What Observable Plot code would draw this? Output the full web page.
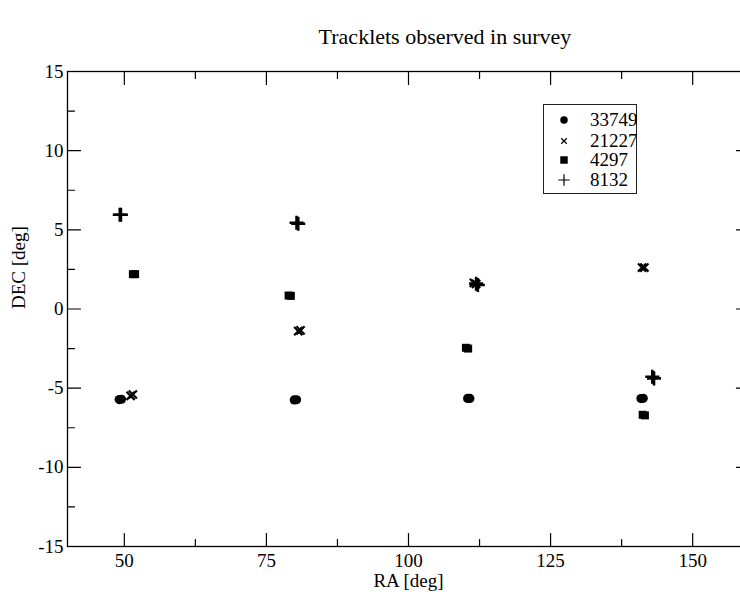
<!DOCTYPE html>
<html>
<head>
<meta charset="utf-8">
<script src="https://cdn.jsdelivr.net/npm/d3@7"></script>
<script src="https://cdn.jsdelivr.net/npm/@observablehq/plot@0.6"></script>
<style>
  html, body { margin: 0; padding: 0; background: #fff; overflow: hidden; width: 740px; height: 594px; }
  #wrap { position: relative; width: 740px; height: 594px; overflow: hidden; font-family: "Liberation Serif", "Times New Roman", "DejaVu Serif", serif; }
  #title { position: absolute; left: 0; top: 23px; width: 890px; text-align: center; font-size: 22px; line-height: 28px; color: #000; }
  #legend { position: absolute; left: 543px; top: 104px; width: 92px; height: 88px; border: 1.5px solid #222; background: #fff; }
  .row { position: absolute; left: 0; height: 20px; font-size: 19px; line-height: 20px; }
  .row svg { position: absolute; left: 12px; top: 2px; }
  .row span { position: absolute; left: 46px; top: 0; }
  #chart { position: absolute; left: 0; top: 0; width: 760px; }
  #chart svg { max-width: none !important; width: 760px; height: 594px; }
</style>
</head>
<body>
<div id="wrap">
  <div id="chart"></div>
  <div id="title"></div>
  <div id="legend"></div>
</div>
<script>
const titleText = "Tracklets observed in survey";
const xLabel = "RA [deg]";
const yLabel = "DEC [deg]";
const xMajorTicks = [50, 75, 100, 125, 150];
const xMinorTicks = [62.5, 87.5, 112.5, 137.5];
const yMajorTicks = [-15, -10, -5, 0, 5, 10, 15];
const yMinorTicks = [-12.5, -7.5, -2.5, 2.5, 7.5, 12.5];

const seriesNames = ["33749", "21227", "4297", "8132"];

const ra33749  = [49.1, 49.5, 79.9, 80.3, 110.4, 110.8, 140.9, 141.3];
const dec33749 = [-5.72, -5.70, -5.74, -5.73, -5.65, -5.65, -5.66, -5.64];

const ra21227  = [51.1, 51.5, 80.6, 81.0, 111.5, 111.9, 141.1, 141.5];
const dec21227 = [-5.48, -5.40, -1.40, -1.35, 1.65, 1.58, 2.62, 2.62];

const ra4297   = [51.5, 51.9, 78.9, 79.3, 110.1, 110.5, 141.2, 141.6];
const dec4297  = [2.20, 2.20, 0.85, 0.83, -2.45, -2.50, -6.68, -6.72];

const ra8132   = [49.2, 49.4, 80.3, 80.6, 111.9, 112.2, 142.9, 143.2];
const dec8132  = [5.95, 5.95, 5.45, 5.38, 1.60, 1.52, -4.28, -4.38];

const toRows = (ra, dec) => ra.map((r, i) => ({ra: r, dec: dec[i]}));
const s33749 = toRows(ra33749, dec33749);
const s21227 = toRows(ra21227, dec21227);
const s4297 = toRows(ra4297, dec4297);
const s8132 = toRows(ra8132, dec8132);

const tickShape = {draw(context, l) { context.moveTo(0, 0); context.lineTo(0, -l); }};
const majorLen = 13, minorLen = 7;

function ticksX(vals, len) {
  return [
    Plot.vector(vals, {x: d => d, y: -15, length: len, rotate: 0, anchor: "start", shape: tickShape, stroke: "#000", strokeWidth: 1.2}),
    Plot.vector(vals, {x: d => d, y: 15, length: len, rotate: 180, anchor: "start", shape: tickShape, stroke: "#000", strokeWidth: 1.2})
  ];
}
function ticksY(vals, len) {
  return [
    Plot.vector(vals, {x: 40, y: d => d, length: len, rotate: 90, anchor: "start", shape: tickShape, stroke: "#000", strokeWidth: 1.2}),
    Plot.vector(vals, {x: 160, y: d => d, length: len, rotate: 270, anchor: "start", shape: tickShape, stroke: "#000", strokeWidth: 1.2})
  ];
}

const chart = Plot.plot({
  width: 760,
  height: 594,
  marginLeft: 67,
  marginRight: 11,
  marginTop: 71,
  marginBottom: 48,
  style: {fontFamily: "'Liberation Serif', 'Times New Roman', 'DejaVu Serif', serif", background: "transparent", maxWidth: "none"},
  x: {domain: [40, 160]},
  y: {domain: [-15, 15]},
  marks: [
    Plot.axisX(xMajorTicks, {tickSize: 0, tickPadding: 7, fontSize: 19, label: null, tickFormat: d => String(d)}),
    Plot.axisY(yMajorTicks, {tickSize: 0, tickPadding: 4, fontSize: 19, label: null, tickFormat: d => String(d)}),
    ...ticksX(xMajorTicks, majorLen),
    ...ticksX(xMinorTicks, minorLen),
    ...ticksY(yMajorTicks, majorLen),
    ...ticksY(yMinorTicks, minorLen),
    Plot.frame({stroke: "#000", strokeWidth: 1.3}),
    Plot.text([xLabel], {frameAnchor: "bottom", dy: 40, fontSize: 19, text: d => d}),
    Plot.text([yLabel], {frameAnchor: "left", dx: -49, rotate: -90, fontSize: 19, text: d => d}),
    Plot.dot(s33749, {x: "ra", y: "dec", symbol: "circle", r: 4.6, fill: "#000"}),
    Plot.dot(s21227, {x: "ra", y: "dec", symbol: "times", r: 3.8, stroke: "#000", strokeWidth: 2.2}),
    Plot.dot(s4297, {x: "ra", y: "dec", symbol: "square", r: 4.5, fill: "#000"}),
    Plot.dot(s8132, {x: "ra", y: "dec", symbol: "plus", r: 4.6, stroke: "#000", strokeWidth: 2.6})
  ]
});
document.getElementById("chart").appendChild(chart);
document.getElementById("title").textContent = titleText;

// legend
const legendSymbols = [
  {type: d3.symbolCircle, size: 44, fill: "#000", stroke: "none"},
  {type: d3.symbolTimes, size: 22, fill: "none", stroke: "#000"},
  {type: d3.symbolSquare, size: 56, fill: "#000", stroke: "none"},
  {type: d3.symbolPlus, size: 44, fill: "none", stroke: "#000"}
];
const legend = document.getElementById("legend");
const rowTops = [5, 26, 45, 65];
seriesNames.forEach((name, i) => {
  const row = document.createElement("div");
  row.className = "row";
  row.style.top = rowTops[i] + "px";
  const svg = d3.create("svg").attr("width", 16).attr("height", 16);
  const sym = legendSymbols[i];
  svg.append("path")
    .attr("transform", "translate(8,8)")
    .attr("d", d3.symbol(sym.type, sym.size)())
    .attr("fill", sym.fill)
    .attr("stroke", sym.stroke)
    .attr("stroke-width", 1.2);
  row.appendChild(svg.node());
  const span = document.createElement("span");
  span.textContent = name;
  row.appendChild(span);
  legend.appendChild(row);
});
</script>
</body>
</html>
